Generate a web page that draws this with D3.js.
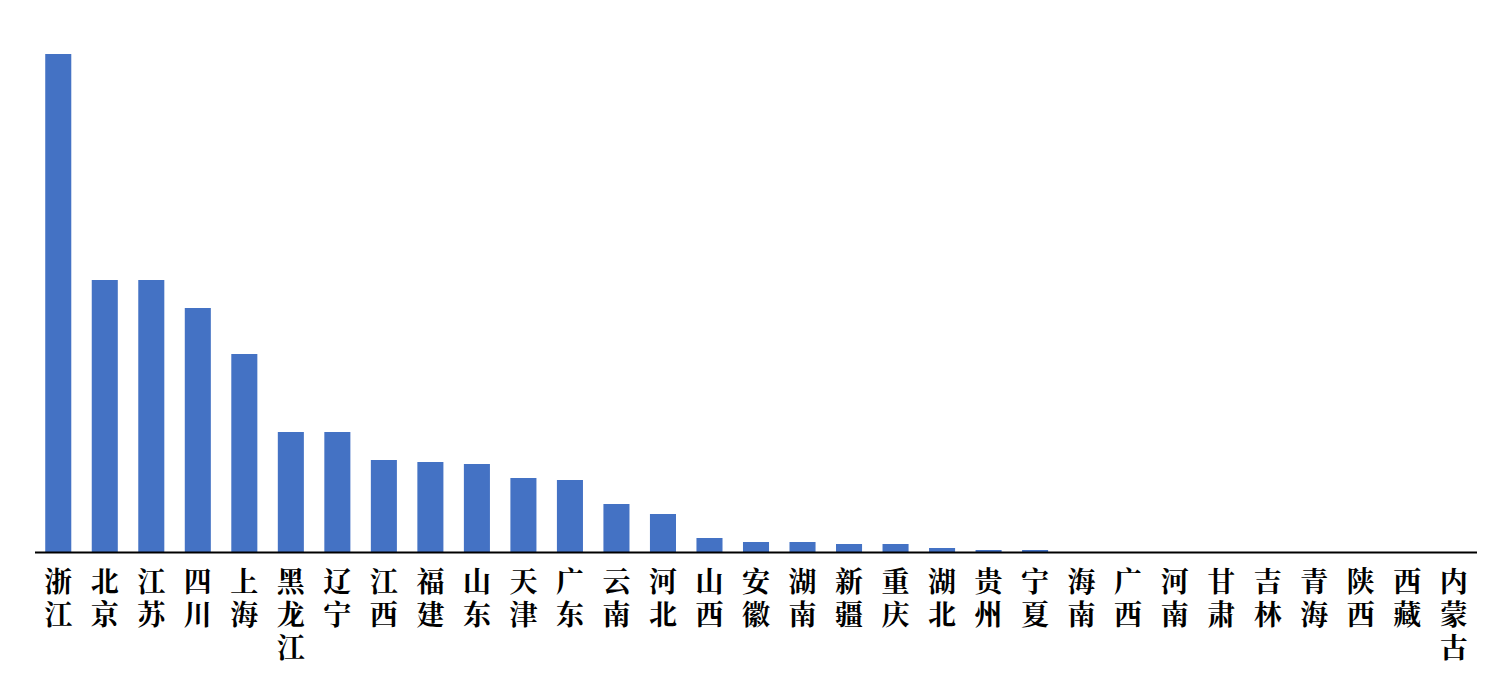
<!DOCTYPE html>
<html><head><meta charset="utf-8">
<script src="https://cdn.jsdelivr.net/npm/d3@7"></script>
<style>html,body{margin:0;padding:0;background:#fff;}</style>
</head><body>
<script>
const categories = ["浙江","北京","江苏","四川","上海","黑龙江","辽宁","江西","福建","山东","天津","广东","云南","河北","山西","安徽","湖南","新疆","重庆","湖北","贵州","宁夏","海南","广西","河南","甘肃","吉林","青海","陕西","西藏","内蒙古"];
const values = [498,272,272,244,198,120,120,92,90,88,74,72,48,38,14,10,10,8,8,4,2,2,0,0,0,0,0,0,0,0,0];

const W = 1510, H = 698;
const svg = d3.select("body").append("svg").attr("width", W).attr("height", H);
const x = d3.scaleBand().domain(categories).range([35, 1477]).paddingInner(0.44).paddingOuter(0.22);
const y = d3.scaleLinear().domain([0, 498]).range([552, 54]);

svg.selectAll("rect.bar").data(categories).enter().append("rect")
  .attr("class","bar")
  .attr("x", d => x(d))
  .attr("width", x.bandwidth())
  .attr("y", (d,i) => y(values[i]))
  .attr("height", (d,i) => y(0) - y(values[i]))
  .attr("fill", "#4472C4");

svg.append("line").attr("x1", 35).attr("x2", 1477).attr("y1", y(0)+0.5).attr("y2", y(0)+0.5)
  .attr("stroke", "#000").attr("stroke-width", 2);

const lab = svg.selectAll("text.lab").data(categories).enter().append("text")
  .attr("class","lab")
  .attr("text-anchor","middle")
  .attr("font-family", "'Noto Serif CJK SC','Noto Sans CJK SC',serif")
  .attr("font-weight","bold")
  .attr("font-size", 28)
  .attr("fill","#000");
lab.each(function(d){
  const t = d3.select(this);
  const cx = x(d) + x.bandwidth()/2;
  Array.from(d).forEach((ch, k) => {
    t.append("tspan").attr("x", cx).attr("y", 592 + k*33).text(ch);
  });
});
</script>
</body></html>
